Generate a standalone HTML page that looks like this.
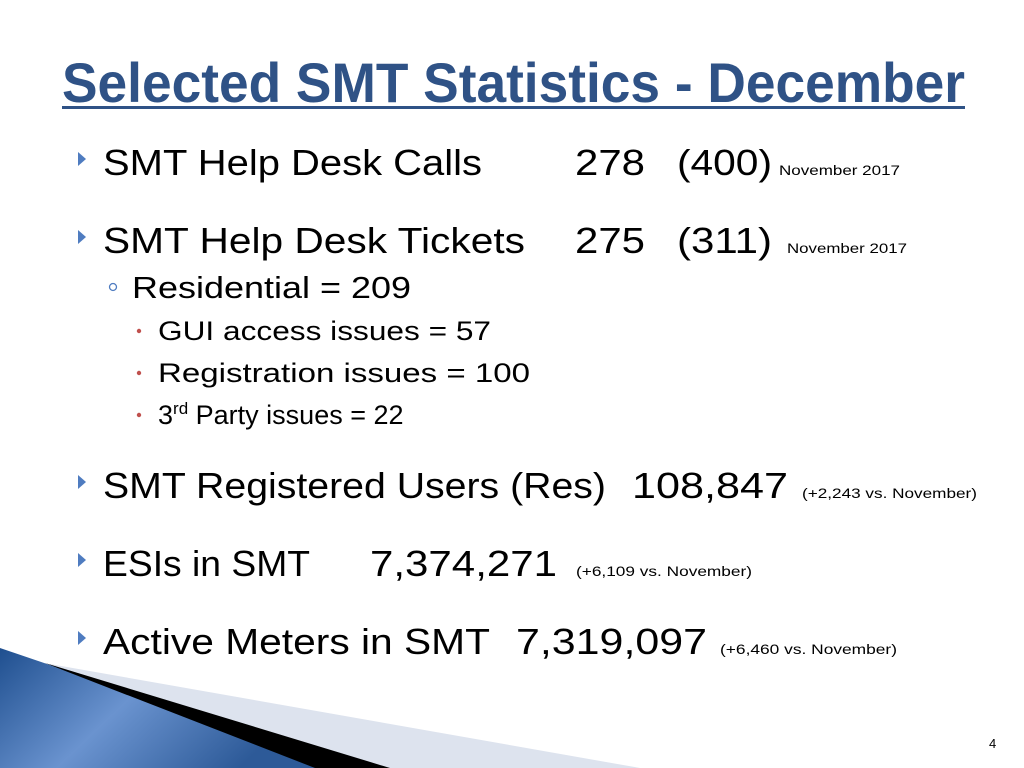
<!DOCTYPE html>
<html><head><meta charset="utf-8"><style>
html,body{margin:0;padding:0;background:#fff;}
svg{display:block;font-family:"Liberation Sans",sans-serif;}
</style></head><body>
<svg width="1024" height="768" viewBox="0 0 1024 768">
<defs>
<linearGradient id="bg" x1="0" y1="0" x2="1" y2="0.4">
<stop offset="0" stop-color="#1f4f8f"/><stop offset="0.5" stop-color="#6a93cf"/><stop offset="1" stop-color="#2d5a98"/>
</linearGradient>
</defs>
<g>
<text x="62" y="102" font-size="56" font-weight="bold" fill="#2f5286" textLength="903" lengthAdjust="spacingAndGlyphs">Selected SMT Statistics - December</text>
<rect x="62" y="106" width="903" height="3" fill="#2f5286"/>
</g>
<g fill="#4f7cc0">
<polygon points="78,152 86,159 78,166"/>
<polygon points="78,230 86,237 78,244"/>
<polygon points="78,475 86,482 78,489"/>
<polygon points="78,553 86,560 78,567"/>
<polygon points="78,631 86,638 78,645"/>
</g>
<g font-size="36" fill="#000">
<text x="103" y="175" textLength="379" lengthAdjust="spacingAndGlyphs">SMT Help Desk Calls</text>
<text x="575" y="175" textLength="70" lengthAdjust="spacingAndGlyphs">278</text>
<text x="677" y="175" textLength="95" lengthAdjust="spacingAndGlyphs">(400)</text>
<text x="103" y="253" textLength="422" lengthAdjust="spacingAndGlyphs">SMT Help Desk Tickets</text>
<text x="575" y="253" textLength="70" lengthAdjust="spacingAndGlyphs">275</text>
<text x="677" y="253" textLength="95" lengthAdjust="spacingAndGlyphs">(311)</text>
<text x="103" y="498" textLength="503" lengthAdjust="spacingAndGlyphs">SMT Registered Users (Res)</text>
<text x="632" y="498" textLength="156" lengthAdjust="spacingAndGlyphs">108,847</text>
<text x="103" y="576" textLength="207" lengthAdjust="spacingAndGlyphs">ESIs in SMT</text>
<text x="370" y="576" textLength="187" lengthAdjust="spacingAndGlyphs">7,374,271</text>
<text x="103" y="654" textLength="387" lengthAdjust="spacingAndGlyphs">Active Meters in SMT</text>
<text x="516" y="654" textLength="191" lengthAdjust="spacingAndGlyphs">7,319,097</text>
</g>
<g font-size="14" fill="#000">
<text x="779" y="175" textLength="121" lengthAdjust="spacingAndGlyphs">November 2017</text>
<text x="787" y="253" textLength="120" lengthAdjust="spacingAndGlyphs">November 2017</text>
<text x="802" y="498" textLength="175" lengthAdjust="spacingAndGlyphs">(+2,243 vs. November)</text>
<text x="576" y="576" textLength="176" lengthAdjust="spacingAndGlyphs">(+6,109 vs. November)</text>
<text x="720" y="654" textLength="177" lengthAdjust="spacingAndGlyphs">(+6,460 vs. November)</text>
</g>
<circle cx="113" cy="287" r="3.5" fill="none" stroke="#4f7cc0" stroke-width="1.3"/>
<text x="132" y="298" font-size="31" textLength="279" lengthAdjust="spacingAndGlyphs">Residential = 209</text>
<g fill="#c0504d">
<circle cx="139" cy="331" r="2.2"/><circle cx="139" cy="373" r="2.2"/><circle cx="139" cy="415" r="2.2"/>
</g>
<g font-size="27" fill="#000">
<text x="158" y="340" textLength="333" lengthAdjust="spacingAndGlyphs">GUI access issues = 57</text>
<text x="158" y="382" textLength="372" lengthAdjust="spacingAndGlyphs">Registration issues = 100</text>
<text x="158" y="424">3<tspan font-size="17" dy="-10">rd</tspan><tspan dy="10"> Party issues = 22</tspan></text>
</g>
<g>
<polygon points="50,664 640,768 0,768" fill="#dde3ee"/>
<polygon points="45,663 390,768 300,768" fill="#000"/>
<polygon points="0,648 50,665 315,768 0,768" fill="url(#bg)"/>
</g>
<text x="989" y="748" font-size="13" fill="#000">4</text>
</svg>
</body></html>
